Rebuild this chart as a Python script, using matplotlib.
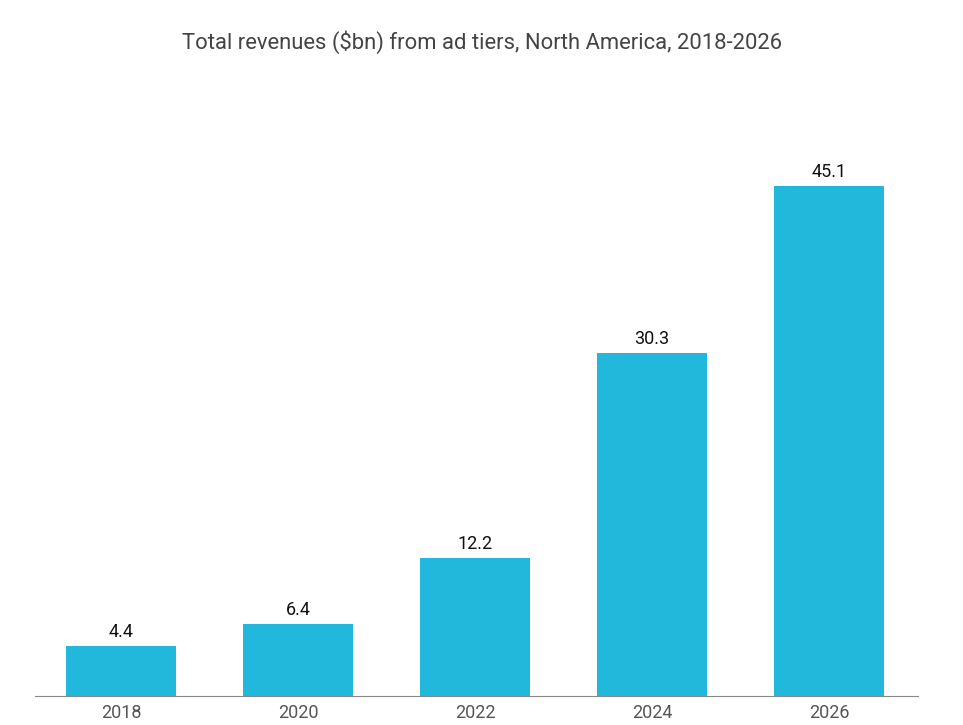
import matplotlib.pyplot as plt

years = ['2018', '2020', '2022', '2024', '2026']
revenues = [4.4, 6.4, 12.2, 30.3, 45.1]

plt.rcParams['font.family'] = ['Roboto', 'DejaVu Sans']

fig = plt.figure(figsize=(9.63, 7.25), dpi=100)
ax = fig.add_axes([0.0363, 0.04, 0.917, 0.822])

x = range(len(years))
bars = ax.bar(x, revenues, width=0.62, color='#22b8db')

for b, v in zip(bars, revenues):
    ax.text(b.get_x() + b.get_width() / 2, v + 0.45, f'{v}', ha='center', va='bottom',
            fontsize=13, color='#111111')

ax.set_xlim(-0.486, 4.503)
ax.set_ylim(0, 52.7)
ax.set_xticks(list(x))
ax.set_xticklabels(years, fontsize=13, color='#555555')
ax.set_yticks([])
ax.tick_params(axis='x', length=0, pad=6)

for s in ['top', 'right', 'left']:
    ax.spines[s].set_visible(False)
ax.spines['bottom'].set_color('#888888')

fig.text(0.5, 0.942, 'Total revenues ($bn) from ad tiers, North America, 2018-2026',
         ha='center', va='center', fontsize=15.8, color='#444444')

fig.savefig('out.png', dpi=100)
